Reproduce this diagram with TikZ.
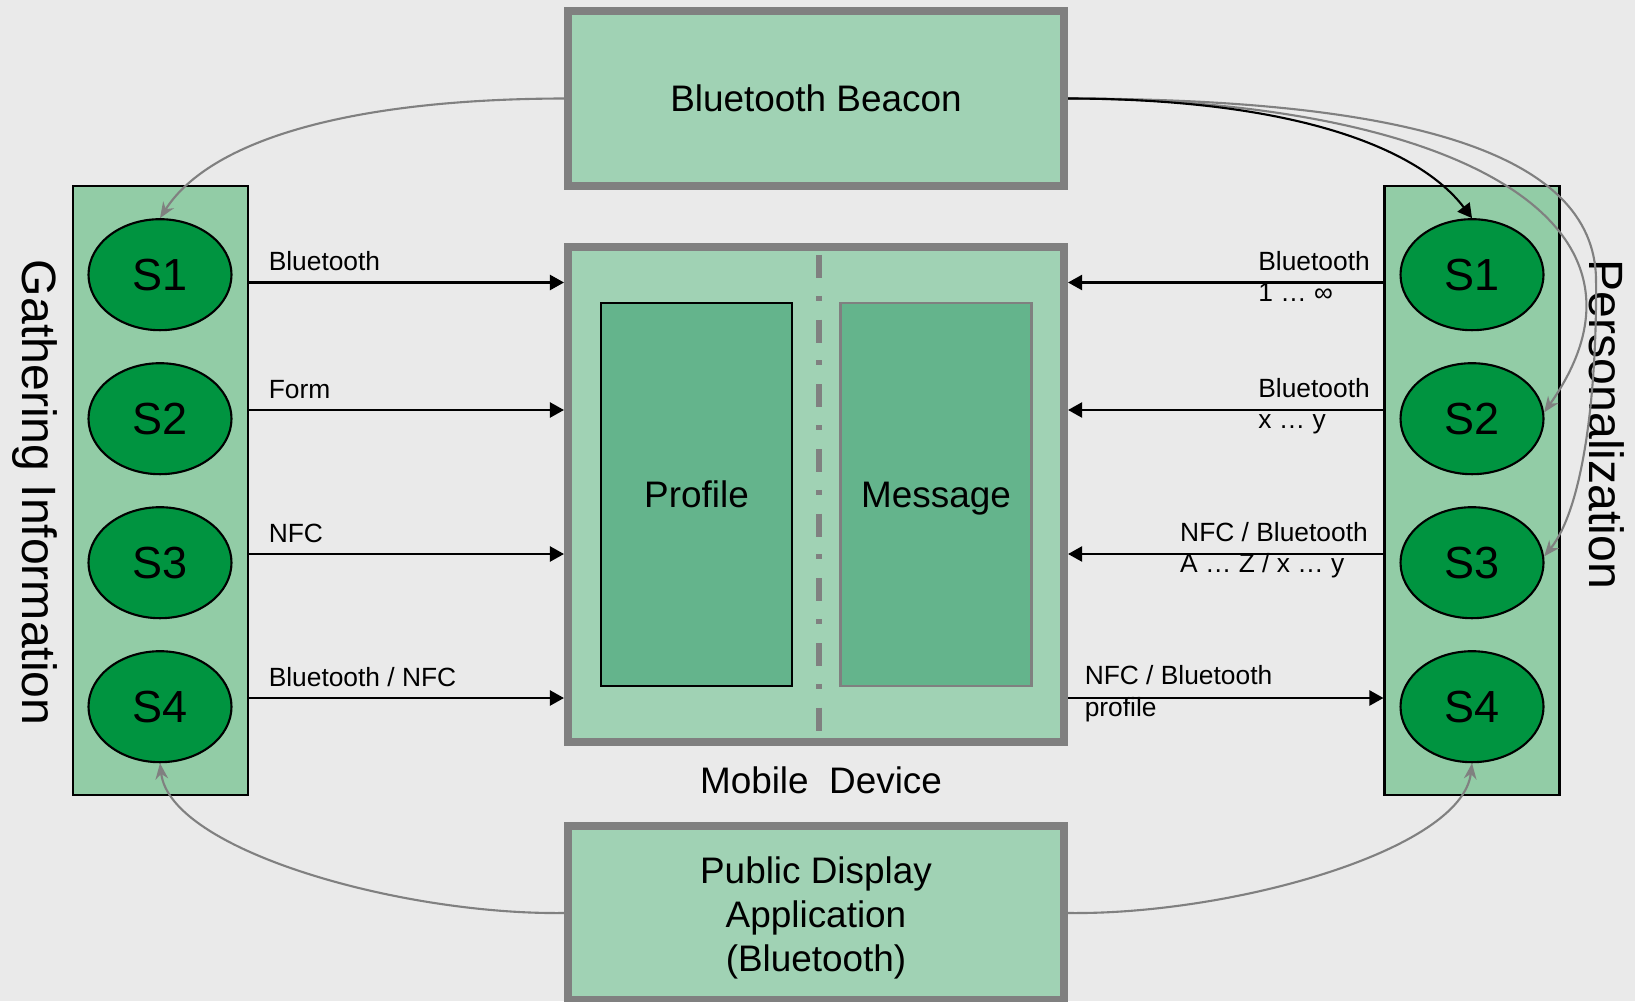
\documentclass[tikz,border=0pt]{standalone}
\usepackage{fontspec}
\setmainfont{Liberation Sans}
\usetikzlibrary{shapes.geometric,arrows.meta,calc}

\definecolor{bggray}{RGB}{234,234,234}
\definecolor{boxgray}{RGB}{128,128,128}
\definecolor{mint}{RGB}{160,210,180}
\definecolor{panelmint}{RGB}{146,204,166}
\definecolor{deepmint}{RGB}{100,180,140}
\definecolor{stategreen}{RGB}{0,148,64}

\tikzset{
  bigbox/.style={draw=boxgray, line width=2.3pt, fill=mint, inner sep=0pt, minimum width=4.96cm},
  panel/.style={draw=black, line width=0.6pt, fill=panelmint, minimum width=1.75cm, minimum height=6.09cm},
  part/.style={line width=0.6pt, fill=deepmint, minimum width=1.91cm, minimum height=3.83cm, text depth=0pt},
  state/.style={ellipse, draw=black, line width=0.6pt, fill=stategreen, minimum width=1.43cm,
    minimum height=1.11cm, inner sep=0pt, font=\fontsize{12.8}{15}\selectfont},
  title/.style={rotate=-90, inner sep=0pt, font=\fontsize{13.7}{16}\selectfont},
  flow/.style={line width=0.6pt, -{Triangle[length=4pt,width=4.3pt]}},
  hint/.style={draw=boxgray, line width=0.6pt, -{Stealth[length=4.5pt,width=3.6pt]}},
  lbl/.style={inner sep=0pt, font=\fontsize{7.5}{9}\selectfont},
}

\begin{document}
\begin{tikzpicture}[font=\fontsize{10.5}{12.4}\selectfont]
  \useasboundingbox (0,0) rectangle (16.35,10.01);
  \fill[bggray] (0,0) rectangle (16.35,10.01);

  % Beacon, mobile device and public display
  \node[bigbox, minimum height=1.75cm] (beacon) at (8.16,9.025) {Bluetooth Beacon};
  \node[bigbox, minimum height=4.95cm] (device) at (8.16,5.065) {};
  \node[bigbox, minimum height=1.74cm] (public) at (8.16,0.88) {};
  \node[align=center] (pubtext) at (8.16,0.83) {Public Display\\Application\\(Bluetooth)};
  \node (devlabel) at (8.21,2.21) {Mobile\ \ Device};

  % Inside the device: profile and message
  \node[part, draw=black] (profile) at (6.965,5.065) {Profile};
  \node[part, draw=boxgray, line width=0.8pt] (message) at (9.36,5.065) {Message};
  \draw[boxgray, line width=1.6pt, dash pattern=on 6.5pt off 5.1pt on 1.4pt off 5.4pt]
    (8.19,7.46) -- (8.19,2.67);

  % Side panels with the four states
  \node[panel] (gather) at (1.605,5.105) {};
  \node[panel] (person) at (14.72,5.105) {};
  \node[title] (gtitle) at (0.35,5.083) {Gathering Information};
  \node[title] (ptitle) at (16.07,5.766) {Personalization};

  \node[state] (g1) at (1.60,7.263) {S1};
  \node[state] (g2) at (1.60,5.823) {S2};
  \node[state] (g3) at (1.60,4.383) {S3};
  \node[state] (g4) at (1.60,2.943) {S4};
  \node[state] (p1) at (14.72,7.263) {S1};
  \node[state] (p2) at (14.72,5.823) {S2};
  \node[state] (p3) at (14.72,4.383) {S3};
  \node[state] (p4) at (14.72,2.943) {S4};

  % Heights of the four channels
  \coordinate (row1) at (0,7.185);
  \coordinate (row2) at (0,5.91);
  \coordinate (row3) at (0,4.47);
  \coordinate (row4) at (0,3.03);

  % Gathering side into the device
  \draw[flow] (gather.east |- row1) -- (device.west |- row1);
  \node[lbl, anchor=base west] (l1) at ($(gather.east |- row1)+(0.19,0.12)$) {Bluetooth};
  \draw[flow] (gather.east |- row2) -- (device.west |- row2);
  \node[lbl, anchor=base west] (l2) at ($(gather.east |- row2)+(0.19,0.12)$) {Form};
  \draw[flow] (gather.east |- row3) -- (device.west |- row3);
  \node[lbl, anchor=base west] (l3) at ($(gather.east |- row3)+(0.19,0.12)$) {NFC};
  \draw[flow] (gather.east |- row4) -- (device.west |- row4);
  \node[lbl, anchor=base west] (l4) at ($(gather.east |- row4)+(0.19,0.12)$) {Bluetooth / NFC};

  % Personalization side
  \draw[flow] (person.west |- row1) -- (device.east |- row1);
  \node[lbl, anchor=base east] (r1a) at ($(person.west |- row1)+(-0.13,0.125)$) {Bluetooth};
  \node[lbl, anchor=base west] (r1b) at ($(r1a.base west)+(0,-0.31)$) {1 … ∞};
  \draw[flow] (person.west |- row2) -- (device.east |- row2);
  \node[lbl, anchor=base east] (r2a) at ($(person.west |- row2)+(-0.13,0.125)$) {Bluetooth};
  \node[lbl, anchor=base west] (r2b) at ($(r2a.base west)+(0,-0.31)$) {x … y};
  \draw[flow] (person.west |- row3) -- (device.east |- row3);
  \node[lbl, anchor=base east] (r3a) at ($(person.west |- row3)+(-0.15,0.125)$) {NFC / Bluetooth};
  \node[lbl, anchor=base west] (r3b) at ($(r3a.base west)+(0,-0.31)$) {A … Z / x … y};
  \draw[flow] (device.east |- row4) -- (person.west |- row4);
  \node[lbl, anchor=base west] (r4a) at ($(device.east |- row4)+(0.16,0.14)$) {NFC / Bluetooth};
  \node[lbl, anchor=base west] (r4b) at ($(r4a.base west)+(0,-0.32)$) {profile};

  % Beacon reaching the states
  \draw[hint] (beacon.west) .. controls (3.50,9.02) and (2.10,8.61) .. (g1.north);
  \draw[hint] (beacon.east) .. controls (14.50,9.02) and (16.80,7.81) .. (p2.5);
  \draw[hint] (beacon.east) .. controls (14.00,9.02) and (15.95,8.51) .. (15.96,7.21)
    .. controls (15.97,6.01) and (15.82,4.91) .. (p3.5);
  \draw[flow] (beacon.east) .. controls (13.00,9.02) and (14.20,8.51) .. (p1.north);

  % Public display reaching S4 on both sides
  \draw[hint] (public.west) .. controls (4.00,0.86) and (1.70,1.51) .. (g4.south);
  \draw[hint] (public.east) .. controls (12.32,0.86) and (14.62,1.51) .. (p4.south);
\end{tikzpicture}
\end{document}
